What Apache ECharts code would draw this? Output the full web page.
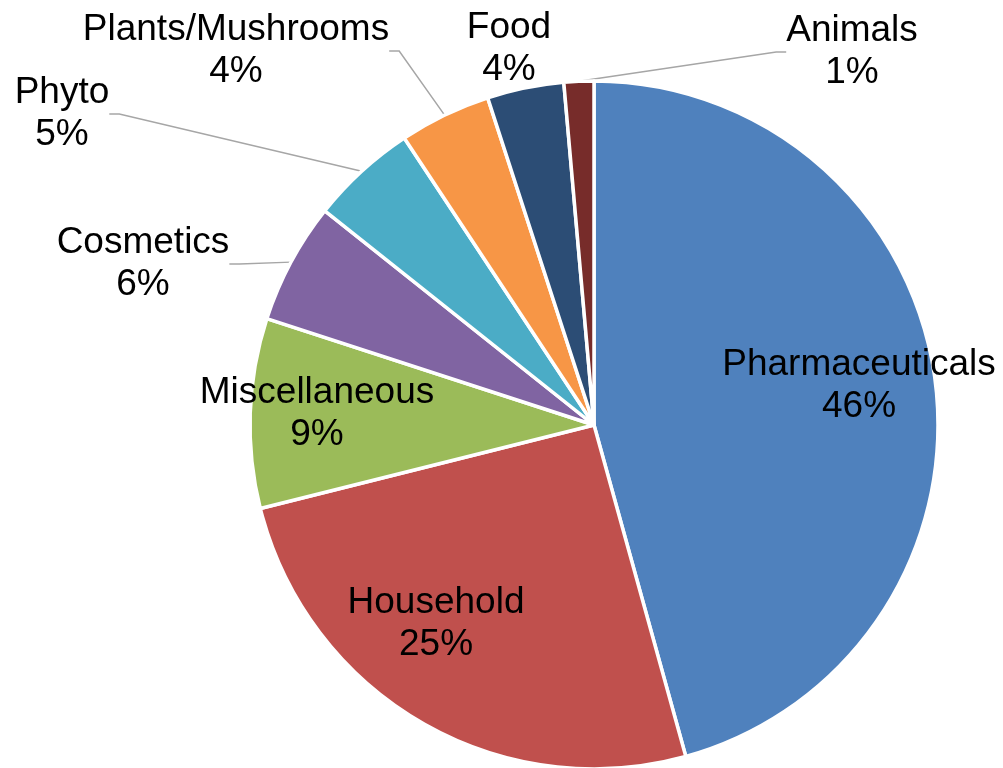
<!DOCTYPE html>
<html>
<head>
<meta charset="utf-8">
<script src="https://cdn.jsdelivr.net/npm/echarts@6/dist/echarts.min.js"></script>
<style>
html,body{margin:0;padding:0;background:#fff;}
#chart{width:1003px;height:768px;}
</style>
</head>
<body>
<div id="chart"></div>
<script>
const categories = ['Pharmaceuticals','Household','Miscellaneous','Cosmetics','Phyto','Plants/Mushrooms','Food','Animals'];
const values = [45.7, 25.4, 8.9, 5.7, 5.0, 4.3, 3.6, 1.4];
const colors = ['#4F81BD','#C0504D','#9BBB59','#8064A2','#4BACC6','#F79646','#2C4D75','#772C2A'];
const insideLabels = [true, true, true, false, false, false, false, false];
const showLines = [false, false, false, true, true, true, false, true];
const labelPos = [[859,386],[436,624],[317,414],[143,264],[62,114],[236,51],[509,49],[852,52]];

const chart = echarts.init(document.getElementById('chart'), null, {renderer:'canvas'});
const data = categories.map((c,i)=>({
  name:c, value:values[i],
  itemStyle:{color:colors[i]},
  label:{position: insideLabels[i] ? 'inside' : 'outside'},
  labelLine:{show: showLines[i]}
}));
chart.setOption({
  animation:false,
  series:[{
    type:'pie',
    center:[594,425],
    radius:344,
    startAngle:90,
    clockwise:true,
    avoidLabelOverlap:false,
    itemStyle:{borderColor:'#fff', borderWidth:3.5},
    emphasis:{disabled:true},
    label:{
      show:true,
      color:'#000',
      fontFamily:'Liberation Sans, Arial, sans-serif',
      fontSize:37,
      lineHeight:42,
      align:'center',
      formatter:p=>p.name+'\n'+Math.round(p.percent)+'%'
    },
    labelLine:{lineStyle:{color:'#A6A6A6', width:1.5}, length:20, length2:10, smooth:false},
    labelLayout:function(p){
      const pos = labelPos[p.dataIndex];
      return {x:pos[0], y:pos[1], align:'center', verticalAlign:'middle'};
    },
    data:data
  }]
});
</script>
</body>
</html>
